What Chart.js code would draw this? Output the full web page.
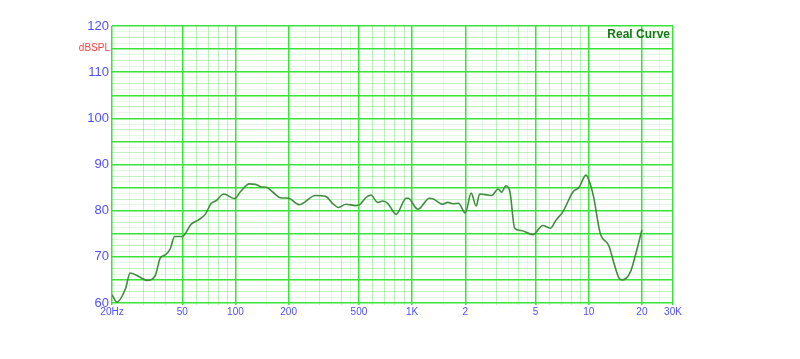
<!DOCTYPE html>
<html>
<head>
<meta charset="utf-8">
<script src="https://cdn.jsdelivr.net/npm/chart.js@4.4.1/dist/chart.umd.min.js"></script>
<style>
  html, body { margin: 0; padding: 0; background: #ffffff; }
  canvas { display: block; }
</style>
</head>
<body>
<canvas id="myChart" width="800" height="359"></canvas>
<script>
// Frequency (Hz) and SPL (dB)
const freqs = [20, 21.3, 23.9, 25.3, 28.8, 31.5, 35.1, 37.5, 40, 42.7, 45.2, 50, 56.2, 61.8, 67.4, 73, 78, 85.8, 99, 106.6,
    120, 130, 139, 151, 162, 180, 200, 229, 284, 324, 354, 383, 422, 480, 506, 546, 584, 638, 682, 728,
    812, 926, 950, 1078, 1254, 1310, 1492, 1592, 1700, 1830, 2000, 2160, 2306, 2412, 2692, 2820, 3070, 3210, 3394, 3580,
    3810, 4140, 4840, 5490, 6070, 6540, 7150, 8160, 8800, 9650, 10000, 10640, 11620, 13000, 13900, 14830, 15500, 17250, 18300, 20000];
const spl = [61.8, 60.2, 63.2, 66.5, 65.6, 64.9, 65.9, 69.7, 70.4, 71.7, 74.4, 74.4, 77.1, 78.0, 79.2, 81.6, 82.2, 83.6, 82.6, 84.1,
    85.8, 85.7, 85.2, 85.0, 84.1, 82.8, 82.7, 81.3, 83.3, 83.1, 81.6, 80.7, 81.4, 81.1, 81.3, 82.8, 83.4, 81.8, 82.1, 81.6,
    79.2, 82.7, 82.7, 80.3, 82.7, 82.6, 81.4, 81.8, 81.5, 81.6, 79.5, 83.8, 81.0, 83.6, 83.4, 83.3, 84.7, 84.0, 85.4, 84.1,
    76.2, 75.7, 74.8, 76.8, 76.2, 78.0, 79.8, 84.1, 85.0, 87.7, 86.7, 83.1, 75.1, 72.4, 68.6, 65.4, 65.0, 66.8, 70.1, 75.8];

// Tick labels
const xLabelValues = [20, 50, 100, 200, 500, 1000, 2000, 5000, 10000, 20000, 30000];
const xLabelTexts = ['20Hz', '50', '100', '200', '500', '1K', '2', '5', '10', '20', '30K'];
const yLabelValues = [60, 70, 80, 90, 100, 110, 120];

const titleText = 'Real Curve';
const unitText = 'dBSPL';

// translucent minor lines so they don't cut through the bold ones
const BOLD_GRID = 'rgb(55, 228, 55)';
const LIGHT_GRID = 'rgba(55, 215, 55, 0.33)';
const DOT_GRID = 'rgba(55, 215, 55, 0.14)';
const LABEL_BLUE = 'rgb(80, 80, 255)';

// grid lines on the log axis
let xGrid = [];
[10, 100, 1000, 10000].forEach((d) => {
    [1.5, 2, 2.5, 3, 3.5, 4, 4.5, 5, 6, 7, 8, 9, 10].forEach((m) => {
        let v = Math.round(m * d);
        if (v >= 20 && v <= 30000 && xGrid.indexOf(v) < 0) xGrid.push(v);
    });
});
xGrid.sort((a, b) => a - b);

let yGrid = [];
for (let v = 60; v <= 120; v += 1.25) yGrid.push(v);

function xKind(v) {
    if (xLabelValues.indexOf(v) >= 0) return 'bold';
    let m = v / Math.pow(10, Math.floor(Math.log10(v)));
    m = Math.round(m * 10) / 10;
    if (m === 1.5 || m === 2.5 || m === 3.5 || m === 4.5) return 'dot';
    return 'light';
}

function yKind(v) {
    if (v % 5 === 0) return 'bold';
    if (v % 2.5 === 0) return 'light';
    return 'dot';
}

function kindColor(k) {
    return k === 'bold' ? BOLD_GRID : (k === 'light' ? LIGHT_GRID : DOT_GRID);
}

let points = freqs.map((f, i) => ({ x: f, y: spl[i] }));

let overlayText = {
    id: 'overlayText',
    afterDraw(chart) {
        let ctx = chart.ctx;
        let area = chart.chartArea;
        ctx.save();
        ctx.font = 'bold 12px "Liberation Sans", Arial, sans-serif';
        ctx.fillStyle = 'rgb(20, 120, 20)';
        ctx.textAlign = 'right';
        ctx.textBaseline = 'middle';
        ctx.fillText(titleText, area.right - 3, area.top + 9);

        ctx.font = '10px "Liberation Sans", Arial, sans-serif';
        ctx.fillStyle = 'rgb(255, 60, 60)';
        ctx.fillText(unitText, area.left - 2, 48);
        ctx.restore();
    }
};

let ctx = document.getElementById('myChart').getContext('2d');
let chart = new Chart(ctx, {
    type: 'line',
    data: {
        datasets: [{
            data: points,
            borderColor: 'rgb(65, 140, 65)',
            borderWidth: 1.6,
            pointRadius: 0,
            fill: false,
            cubicInterpolationMode: 'monotone'
        }]
    },
    plugins: [overlayText],
    options: {
        responsive: false,
        animation: false,
        layout: { padding: { left: 0, right: 127, top: 26, bottom: 0 } },
        plugins: {
            legend: { display: false },
            tooltip: { enabled: false }
        },
        scales: {
            x: {
                type: 'logarithmic',
                min: 20,
                max: 30000,
                afterBuildTicks: (scale) => {
                    scale.ticks = xGrid.map((v) => ({ value: v }));
                },
                afterFit: (scale) => {
                    scale.height = 56;
                    scale.paddingLeft = 0;
                    scale.paddingRight = 0;
                },
                grid: {
                    color: (c) => kindColor(xKind(c.tick.value)),
                    lineWidth: (c) => xKind(c.tick.value) === 'bold' ? 1.5 : 1,
                    drawTicks: true,
                    tickLength: 2
                },
                border: { display: false },
                ticks: {
                    autoSkip: false,
                    maxRotation: 0,
                    padding: 1,
                    color: LABEL_BLUE,
                    font: { family: '"Liberation Sans", Arial, sans-serif', size: 10 },
                    callback: (value) => {
                        let i = xLabelValues.indexOf(Math.round(value));
                        return i >= 0 ? xLabelTexts[i] : '';
                    }
                }
            },
            y: {
                min: 60,
                max: 120,
                afterBuildTicks: (scale) => {
                    scale.ticks = yGrid.map((v) => ({ value: v }));
                },
                afterFit: (scale) => {
                    scale.width = 112;
                    scale.paddingTop = 0;
                    scale.paddingBottom = 0;
                },
                grid: {
                    color: (c) => kindColor(yKind(c.tick.value)),
                    lineWidth: (c) => yKind(c.tick.value) === 'bold' ? 1.5 : 1,
                    drawTicks: false
                },
                border: { display: false },
                ticks: {
                    autoSkip: false,
                    padding: 3,
                    color: LABEL_BLUE,
                    font: { family: '"Liberation Sans", Arial, sans-serif', size: 13 },
                    callback: (value) => yLabelValues.indexOf(value) >= 0 ? String(value) : ''
                }
            }
        }
    }
});
</script>
</body>
</html>
